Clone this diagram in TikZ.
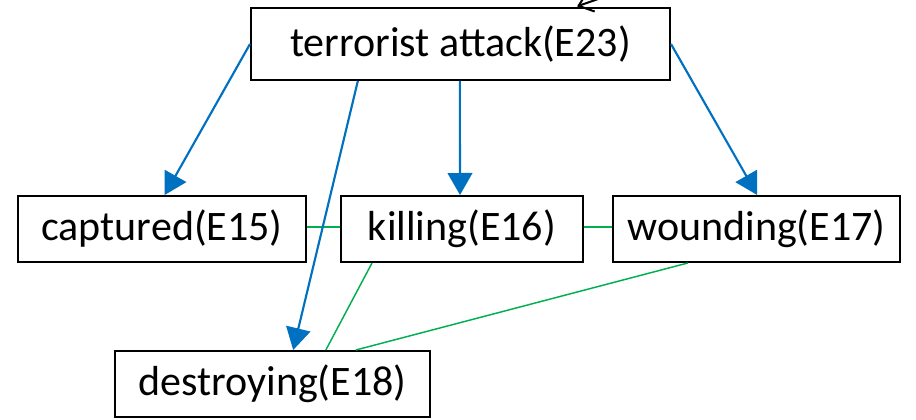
\documentclass[tikz,border=0pt]{standalone}
\usepackage{fontspec}
\setmainfont{Carlito}
\usetikzlibrary{arrows.meta,calc}
\definecolor{eblue}{RGB}{0,112,192}
\definecolor{egreen}{RGB}{0,176,80}
\begin{document}
\begin{tikzpicture}[x=0.75pt,y=-0.75pt,
  evbox/.style={draw=black,line width=1.5pt,fill=white,inner sep=0pt,minimum height=49.5pt,font=\fontsize{31.5}{36}\selectfont},
  bluearrow/.style={draw=eblue,line width=1.6pt,-{Triangle[length=16.5pt,width=18.5pt]}},
  greenline/.style={draw=egreen,line width=1.1pt},
  blackarrow/.style={draw=black,line width=1.5pt,-{Straight Barb[length=10pt,width=16pt]}}
]
\useasboundingbox (0,0) rectangle (916,420);
\clip (0,0) rectangle (916,420);
\fill[white] (0,0) rectangle (916,420);
\node[evbox,minimum width=314.25pt,minimum height=54pt] (e23) at (460.5,44) {terrorist attack(E23)};
\node[evbox,minimum width=216pt] (e15) at (162,229) {captured(E15)};
\node[evbox,minimum width=181.5pt] (e16) at (462,229) {killing(E16)};
\node[evbox,minimum width=215.25pt] (e17) at (756.5,229) {wounding(E17)};
\node[evbox,minimum width=236.25pt] (e18) at (272.5,384) {destroying(E18)};
\coordinate (src) at (650,-19);
% green relations
\draw[greenline] ([yshift=1.5pt]e15.east) -- ([yshift=1.5pt]e16.west);
\draw[greenline] ([yshift=1.5pt]e16.east) -- ([yshift=1.5pt]e17.west);
\draw[greenline] ([xshift=-67.5pt]e16.south) -- ([xshift=40pt]e18.north);
\draw[greenline] ([xshift=-51.5pt]e17.south) -- ([xshift=62.5pt]e18.north);
% blue arrows
\draw[bluearrow] (e23.west) -- ([xshift=2pt]e15.north);
\draw[bluearrow] ([xshift=-77pt]e23.south) -- ([xshift=15.5pt]e18.north);
\draw[bluearrow] ([xshift=-0.5pt]e23.south) -- ([xshift=-1.5pt]e16.north);
\draw[bluearrow] (e23.east) -- ([xshift=0.5pt]e17.north);
% incoming arrow from above
\draw[blackarrow,shorten >=1.5pt] (src) -- ([xshift=86pt]e23.north);
\end{tikzpicture}
\end{document}
